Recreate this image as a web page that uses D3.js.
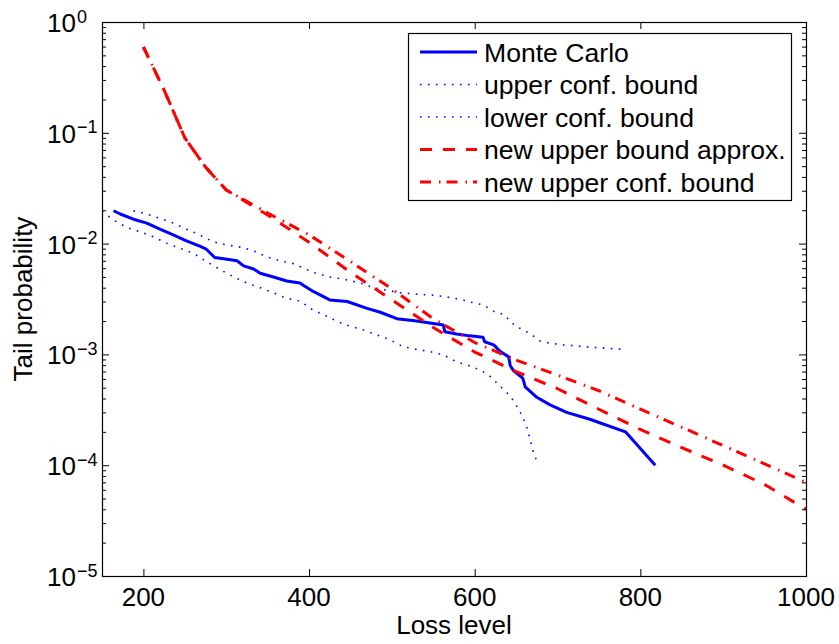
<!DOCTYPE html>
<html>
<head>
<meta charset="utf-8">
<script src="https://cdn.jsdelivr.net/npm/d3@7"></script>
<style>
  body { margin: 0; background: #fff; }
  svg { font-family: "Liberation Sans", Arial, sans-serif; }
</style>
</head>
<body>
<svg width="839" height="644"></svg>
<script>
// Monte Carlo estimate
var mcLoss = [164,172,188,204,220,236,252,268,276,286,297,313,321,333,341,357,373,389,393,405,425,446,470,486,506,530,562,564,578,594,610,612,623,631,641,643,647,658,661,675,691,711,739,782,818];
var mcProb = [0.0198,0.0185,0.0166,0.0153,0.0135,0.0120,0.0106,0.0095,0.0089,0.0075,0.0073,0.0070,0.0063,0.0059,0.0054,0.0050,0.0046,0.0044,0.0042,0.0037,0.0031,0.0030,0.0026,0.0024,0.0021,0.0020,0.00184,0.0016,0.00153,0.00147,0.00143,0.0013,0.00122,0.00106,0.00095,0.00079,0.00071,0.00061,0.00051,0.00041,0.00035,0.0003,0.00026,0.0002,0.0001];

// upper / lower confidence bounds
var ucbLoss = [188,204,220,236,252,268,284,301,317,333,349,365,381,389,405,425,446,462,478,494,510,530,554,566,586,600,610,625,635,643,649,659,669,679,691,707,723,739,755,782];
var ucbProb = [0.0198,0.0185,0.0169,0.0153,0.0135,0.0120,0.0104,0.0097,0.0093,0.0086,0.0076,0.0070,0.0066,0.0062,0.0055,0.0050,0.0047,0.0044,0.0040,0.0038,0.0036,0.0035,0.0034,0.0033,0.0031,0.0029,0.0028,0.0024,0.0023,0.0020,0.0018,0.00166,0.0015,0.00132,0.00126,0.00122,0.00119,0.00116,0.00114,0.00111];

var lcbLoss = [150,164,180,196,212,228,240,260,276,293,309,325,341,357,373,385,393,405,417,433,449,466,482,498,514,530,546,562,578,598,610,619,627,635,643,649,655,659,663,667,671,677];
var lcbProb = [0.0195,0.0163,0.0140,0.0128,0.0115,0.0101,0.0093,0.0082,0.0069,0.0058,0.0050,0.0044,0.0040,0.0036,0.0032,0.0031,0.0029,0.0025,0.0023,0.0020,0.0018,0.00166,0.0015,0.00135,0.00117,0.00111,0.00106,0.00099,0.00086,0.00077,0.0007,0.00063,0.00055,0.00048,0.00042,0.00036,0.0003,0.00026,0.00022,0.00017,0.00013,0.0001];

// new bounds
var newLoss = [200,225,250,275,300,350,400,450,500,550,600,650,700,750,800,850,900,950,1000];
var newApprox = [0.595,0.243,0.090,0.049,0.0305,0.0181,0.0103,0.0055,0.0031,0.00175,0.00105,0.0007,0.00049,0.00032,0.00021,0.000144,0.0001,0.000067,0.00004];
var newConf = [0.595,0.243,0.090,0.049,0.0305,0.0189,0.0120,0.0069,0.0039,0.0021,0.00128,0.00089,0.00065,0.00047,0.00032,0.00022,0.00015,0.000103,0.00007];

var xTicks = [200, 400, 600, 800, 1000];
var yExps = [0, -1, -2, -3, -4, -5];

var legendLabels = ["Monte Carlo", "upper conf. bound", "lower conf. bound", "new upper bound approx.", "new upper conf. bound"];

var svg = d3.select("svg"),
    margin = {top: 22, right: 33, bottom: 68, left: 102},
    width = +svg.attr("width") - margin.left - margin.right,
    height = +svg.attr("height") - margin.top - margin.bottom;

var x = d3.scaleLinear().domain([150, 1000]).range([0, width]),
    y = d3.scaleLog().domain([1e-5, 1]).range([height, 0]);

var g = svg.append("g")
    .attr("transform", "translate(" + margin.left + "," + margin.top + ")");

g.append("clipPath").attr("id", "clip")
  .append("rect").attr("width", width).attr("height", height);

var styles = [
  {color: "#0000ff", width: 3, dash: null},
  {color: "#0000ff", width: 1.6, dash: "1.6,6.4"},
  {color: "#0000ff", width: 1.6, dash: "1.6,6.4"},
  {color: "#ff0000", width: 3, dash: "12,11"},
  {color: "#ff0000", width: 3, dash: "11,8,1.5,6"}
];

var series = [
  {xs: mcLoss, ys: mcProb},
  {xs: ucbLoss, ys: ucbProb},
  {xs: lcbLoss, ys: lcbProb},
  {xs: newLoss, ys: newApprox},
  {xs: newLoss, ys: newConf}
];

var line = d3.line()
    .x(function(d) { return x(d[0]); })
    .y(function(d) { return y(d[1]); });

var plot = g.append("g").attr("clip-path", "url(#clip)");

series.forEach(function(s, i) {
  var pts = s.xs.map(function(v, j) { return [v, s.ys[j]]; });
  plot.append("path")
      .datum(pts)
      .attr("d", line)
      .attr("fill", "none")
      .attr("stroke", styles[i].color)
      .attr("stroke-width", styles[i].width)
      .attr("stroke-dasharray", styles[i].dash)
      .attr("stroke-linejoin", "round");
});

// box + inward ticks, matlab style
g.append("rect")
    .attr("x", 0.5).attr("y", 0.5)
    .attr("width", width).attr("height", height)
    .attr("fill", "none").attr("stroke", "#000").attr("stroke-width", 1.2);

var minor = [];
yExps.forEach(function(e) {
  if (e === 0) return;
  for (var k = 2; k <= 9; k++) minor.push(k * Math.pow(10, e));
});

g.append("g")
    .attr("transform", "translate(0," + height + ")")
    .call(d3.axisBottom(x).tickValues(xTicks).tickSize(-7).tickFormat(""))
    .call(function(a) { a.select(".domain").remove(); });
g.append("g")
    .call(d3.axisTop(x).tickValues(xTicks).tickSize(-7).tickFormat(""))
    .call(function(a) { a.select(".domain").remove(); });

g.append("g")
    .call(d3.axisLeft(y).tickValues(yExps.map(function(e) { return Math.pow(10, e); })).tickSize(-7).tickFormat(""))
    .call(function(a) { a.select(".domain").remove(); });
g.append("g")
    .call(d3.axisLeft(y).tickValues(minor).tickSize(-4).tickFormat(""))
    .call(function(a) { a.select(".domain").remove(); });
g.append("g")
    .attr("transform", "translate(" + width + ",0)")
    .call(d3.axisRight(y).tickValues(yExps.map(function(e) { return Math.pow(10, e); })).tickSize(-7).tickFormat(""))
    .call(function(a) { a.select(".domain").remove(); });
g.append("g")
    .attr("transform", "translate(" + width + ",0)")
    .call(d3.axisRight(y).tickValues(minor).tickSize(-4).tickFormat(""))
    .call(function(a) { a.select(".domain").remove(); });

g.selectAll(".tick line").attr("stroke", "#000").attr("stroke-width", 1);

// tick labels
g.selectAll(".xlab")
  .data(xTicks)
  .enter().append("text")
    .attr("x", function(d) { return x(d); })
    .attr("y", height + 30)
    .attr("text-anchor", "middle")
    .style("font-size", "26px")
    .text(function(d) { return d; });

var ylab = g.selectAll(".ylab")
  .data(yExps)
  .enter().append("text")
    .attr("x", -55)
    .attr("y", function(d) { return y(Math.pow(10, d)) + 10; })
    .style("font-size", "26px");
ylab.append("tspan").text("10");
ylab.append("tspan")
    .attr("dx", 1)
    .attr("dy", -9.5)
    .style("font-size", "18px")
    .text(function(d) { return d === 0 ? "0" : "\u2212" + (-d); });

g.append("text")
    .attr("x", width / 2)
    .attr("y", height + 58)
    .attr("text-anchor", "middle")
    .style("font-size", "26px")
    .text("Loss level");

g.append("text")
    .attr("transform", "translate(-70," + (height / 2) + ")rotate(-90)")
    .attr("text-anchor", "middle")
    .style("font-size", "26px")
    .text("Tail probability");

// legend
var legend = svg.append("g").attr("transform", "translate(408,33)");
legend.append("rect")
    .attr("x", 0.5).attr("y", 0.5)
    .attr("width", 383).attr("height", 167)
    .attr("fill", "#fff").attr("stroke", "#000").attr("stroke-width", 1.2);

legendLabels.forEach(function(lab, i) {
  var ly = 19 + i * 32.5;
  legend.append("line")
      .attr("x1", 12).attr("x2", 69)
      .attr("y1", ly).attr("y2", ly)
      .attr("stroke", styles[i].color)
      .attr("stroke-width", styles[i].width)
      .attr("stroke-dasharray", styles[i].dash);
  legend.append("text")
      .attr("x", 76)
      .attr("y", ly + 9.5)
      .style("font-size", "26.6px")
      .text(lab);
});
</script>
</body>
</html>
